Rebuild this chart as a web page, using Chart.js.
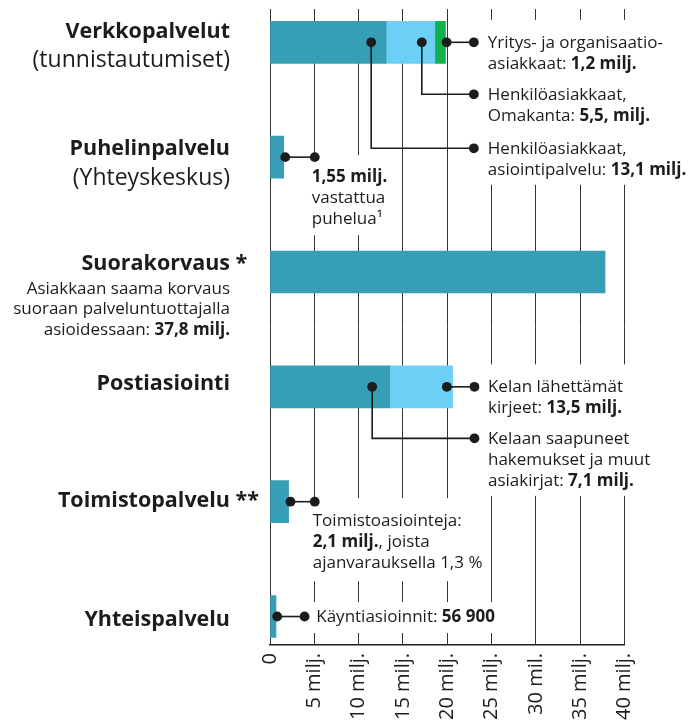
<!DOCTYPE html>
<html><head><meta charset="utf-8">
<script src="https://cdn.jsdelivr.net/npm/chart.js@4/dist/chart.umd.min.js"></script>
<style>html,body{margin:0;padding:0;background:#fff;}#wrap{width:693px;height:725px;position:relative;}</style>
</head><body><div id="wrap"><canvas id="c" width="693" height="725"></canvas></div>
<script>
// ---- DATA ----
const categories = ['Verkkopalvelut', 'Puhelinpalvelu', 'Suorakorvaus', 'Postiasiointi', 'Toimistopalvelu', 'Yhteispalvelu'];
const mainValues = [13.1, 1.55, 37.8, 13.5, 2.1, 0.0569];      // teal segment (milj.)
const secondValues = [5.5, null, null, 7.1, null, null];      // light blue segment
const thirdValues = [1.2, null, null, null, null, null];      // green segment
const tickLabels = ['0', '5 milj.', '10 milj.', '15 milj.', '20 milj.', '25 milj.', '30 mil.', '35 milj.', '40 milj.'];
const titleMarks = ['', '', ' *', '', ' **', ''];
const subLabels = [
  [[['(tunnistautumiset)', 0]]],
  [[['(Yhteyskeskus)', 0]]],
  [[['Asiakkaan saama korvaus', 0]], [['suoraan palveluntuottajalla', 0]], [['asioidessaan: ', 0], ['37,8 milj.', 1]]],
  [], [], []
];
const noteTexts = [
  [[['Yritys- ja organisaatio-', 0]], [['asiakkaat: ', 0], ['1,2 milj.', 1]]],
  [[['Henkilöasiakkaat,', 0]], [['Omakanta: ', 0], ['5,5, milj.', 1]]],
  [[['Henkilöasiakkaat,', 0]], [['asiointipalvelu: ', 0], ['13,1 milj.', 1]]],
  [[['1,55 milj.', 1]], [['vastattua', 0]], [['puhelua¹', 0]]],
  [[['Kelan lähettämät', 0]], [['kirjeet: ', 0], ['13,5 milj.', 1]]],
  [[['Kelaan saapuneet', 0]], [['hakemukset ja muut', 0]], [['asiakirjat: ', 0], ['7,1 milj.', 1]]],
  [[['Toimistoasiointeja:', 0]], [['2,1 milj.', 1], [', joista', 0]], [['ajanvarauksella 1,3 %', 0]]],
  [[['Käyntiasioinnit: ', 0], ['56 900', 1]]]
];

// ---- LAYOUT / STYLE ----
const FONT = '"Open Sans", "Noto Sans", sans-serif';
const TEAL = '#379fb5', LIGHT = '#6ccff6', GREEN = '#10b04a', INK = '#1c1c1c';
const noteGeom = [
  {cat: 0, from: 19.93, to: 23.0, drop: 0, tdx: 14, tdy: 5.5},
  {cat: 0, from: 17.13, to: 23.0, drop: 52, tdx: 14, tdy: 5.5},
  {cat: 0, from: 11.42, to: 23.0, drop: 106, tdx: 14, tdy: 5.5},
  {cat: 1, from: 1.72, to: 5.05, drop: 0, tdx: -3, tdy: 25},
  {cat: 3, from: 19.95, to: 23.07, drop: 0, tdx: 13.5, tdy: 5.5},
  {cat: 3, from: 11.53, to: 23.07, drop: 51.5, tdx: 13.5, tdy: 5.5},
  {cat: 4, from: 2.31, to: 5.05, drop: 0, tdx: -2, tdy: 24.5},
  {cat: 5, from: 0.81, to: 3.9, drop: 0, tdx: 11.7, tdy: 5.5}
];
const boxPad = {0: [28, 10], 1: [27, 11], 3: [28, 10], 4: [28, 13], 5: [20, 11]};
const titleDy = [-4.8, -2.2, -1.5, 3.5, 5.2, 9.5];
const subDy = [[25], [28], [22, 42, 63]];
const LABEL_RIGHT = 230;

function setFont(ctx, bold, size) { ctx.font = (bold ? '700 ' : '400 ') + size + 'px ' + FONT; }
function richWidth(ctx, segs, size) {
  let w = 0; segs.forEach(s => { setFont(ctx, s[1], size); w += ctx.measureText(s[0]).width; }); return w;
}
function drawRich(ctx, segs, x, y, size, align) {
  let w = richWidth(ctx, segs, size);
  let cx = align === 'right' ? x - w : x;
  ctx.textAlign = 'left'; ctx.textBaseline = 'alphabetic'; ctx.fillStyle = INK;
  segs.forEach(s => { setFont(ctx, s[1], size); ctx.fillText(s[0], cx, y); cx += ctx.measureText(s[0]).width; });
  return w;
}

const NOTE_SIZE = 17, NOTE_LH = 21;
const notesPlugin = {
  id: 'notes',
  afterDatasetsDraw(chart) {
    const ctx = chart.ctx, xs = chart.scales.x, ys = chart.scales.y;
    ctx.save();
    const items = noteGeom.map((g, k) => {
      const cy = ys.getPixelForValue(g.cat);
      const x0 = xs.getPixelForValue(g.from), x1 = xs.getPixelForValue(g.to);
      const ly = cy + g.drop;
      const tx = x1 + g.tdx, ty = ly + g.tdy;
      const lines = noteTexts[k];
      let maxW = 0; lines.forEach(l => { maxW = Math.max(maxW, richWidth(ctx, l, NOTE_SIZE)); });
      return {g, cy, x0, x1, ly, tx, ty, lines, maxW};
    });
    const boxes = {};
    items.forEach(it => {
      const p = boxPad[it.g.cat];
      const b = {l: it.tx - 8, r: it.tx + it.maxW + 8, t: it.ty - p[0], bt: it.ty + (it.lines.length - 1) * NOTE_LH + p[1]};
      const o = boxes[it.g.cat];
      if (!o) boxes[it.g.cat] = b; else { o.l = Math.min(o.l, b.l); o.r = Math.max(o.r, b.r); o.t = Math.min(o.t, b.t); o.bt = Math.max(o.bt, b.bt); }
    });
    ctx.fillStyle = '#fff';
    Object.values(boxes).forEach(b => ctx.fillRect(b.l, b.t, b.r - b.l, b.bt - b.t));
    ctx.strokeStyle = INK; ctx.lineWidth = 1.6;
    items.forEach(it => {
      ctx.beginPath(); ctx.moveTo(it.x0, it.cy); ctx.lineTo(it.x0, it.ly); ctx.lineTo(it.x1, it.ly); ctx.stroke();
    });
    ctx.fillStyle = INK;
    items.forEach(it => {
      [[it.x0, it.cy], [it.x1, it.ly]].forEach(p => { ctx.beginPath(); ctx.arc(p[0], p[1], 4.9, 0, Math.PI * 2); ctx.fill(); });
    });
    items.forEach(it => {
      it.lines.forEach((l, i) => drawRich(ctx, l, it.tx, it.ty + i * NOTE_LH, NOTE_SIZE, 'left'));
    });
    categories.forEach((c, i) => {
      const cy = ys.getPixelForValue(i);
      const by = cy + titleDy[i];
      setFont(ctx, true, 21.5); ctx.textAlign = 'right'; ctx.fillStyle = INK; ctx.textBaseline = 'alphabetic';
      ctx.fillText(c, LABEL_RIGHT, by);
      if (titleMarks[i]) { ctx.textAlign = 'left'; ctx.fillText(titleMarks[i], LABEL_RIGHT, by); }
      subLabels[i].forEach((l, j) => {
        const size = i === 2 ? 17 : 23;
        drawRich(ctx, l, LABEL_RIGHT, cy + subDy[i][j], size, 'right');
      });
    });
    ctx.restore();
  }
};

function pts(arr) { const out = []; arr.forEach((v, i) => { if (v !== null) out.push({x: v, y: i}); }); return out; }

new Chart(document.getElementById('c').getContext('2d'), {
  type: 'bar',
  data: {
    datasets: [
      {label: 'pää', data: pts(mainValues), backgroundColor: TEAL, minBarLength: 6},
      {label: 'toinen', data: pts(secondValues), backgroundColor: LIGHT},
      {label: 'kolmas', data: pts(thirdValues), backgroundColor: GREEN}
    ]
  },
  options: {
    indexAxis: 'y', responsive: false, animation: false, devicePixelRatio: 1,
    layout: {padding: {left: 270, right: 68.5, top: 9, bottom: 0}},
    plugins: {legend: {display: false}, tooltip: {enabled: false}},
    datasets: {bar: {barThickness: 42, borderWidth: 0}},
    scales: {
      x: {
        type: 'linear', min: 0, max: 40, stacked: true, position: 'bottom',
        afterFit(s) { s.height = 80; },
        ticks: {stepSize: 5, autoSkip: false, maxRotation: 90, minRotation: 90, padding: 8,
          font: {family: FONT, size: 20}, color: INK, callback: (v, i) => tickLabels[i]},
        grid: {color: '#333', lineWidth: 1, drawTicks: false},
        border: {display: true, color: INK, width: 1.5}
      },
      y: {type: 'linear', min: -0.29, max: 5.248, reverse: true, stacked: true, offset: false, display: false}
    }
  },
  plugins: [notesPlugin]
});
</script></body></html>
